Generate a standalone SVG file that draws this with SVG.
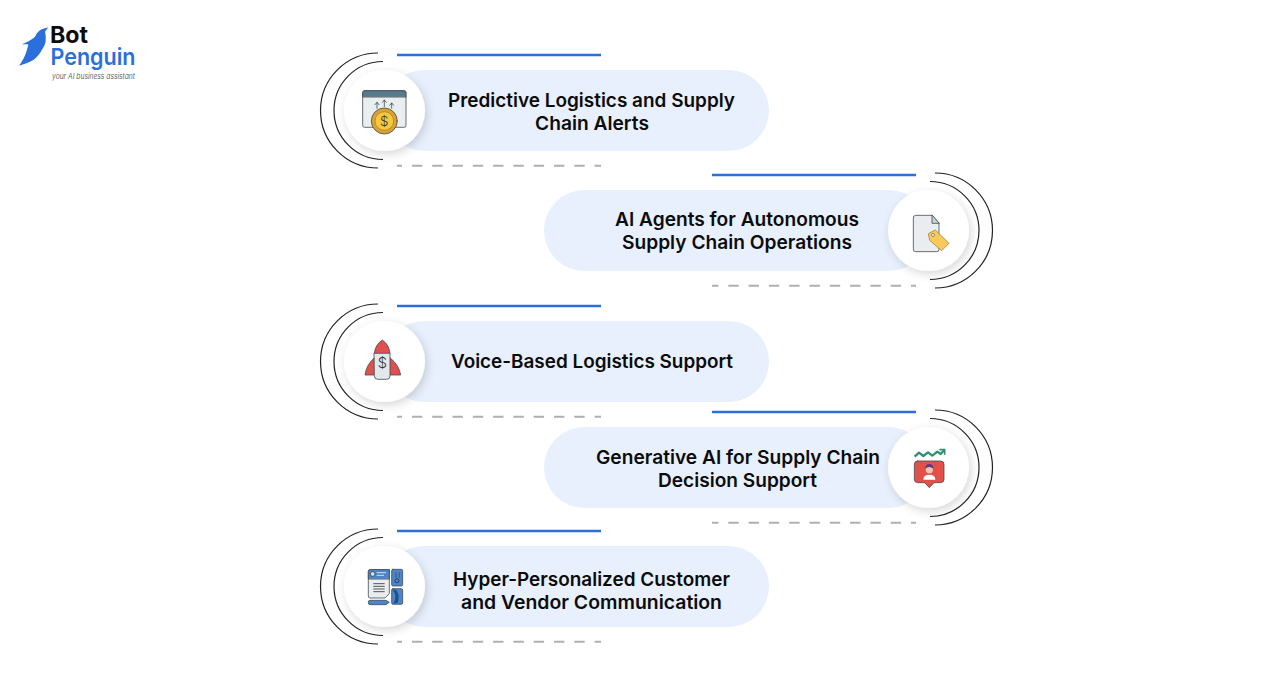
<svg xmlns="http://www.w3.org/2000/svg" width="1288" height="686" viewBox="0 0 1288 686">
<style>
.pill{fill:#e8f0fd}
.disc{fill:#fff;filter:url(#sh)}
.arc{fill:none;stroke:#222;stroke-width:1.2}
.top{stroke:#2a6fdb;stroke-width:2.5}
.dash{stroke:#b0b0b0;stroke-width:2;stroke-dasharray:10.4 9.9;stroke-dashoffset:5.4}
text{font-family:Inter,"Liberation Sans",sans-serif}
.t{font-size:19px;font-weight:600;fill:#0c0c0c;text-anchor:middle}
.ol{stroke:#454a52;stroke-width:2.4;stroke-linejoin:round;stroke-linecap:round}
.d{font-weight:300;text-anchor:middle;fill:#333}
</style>
<defs>
<filter id="sh" x="-30%" y="-30%" width="170%" height="170%"><feDropShadow dx="2" dy="3" stdDeviation="5" flood-color="#000" flood-opacity=".16"/></filter>
<g id="deco">
<path class="arc" d="M378 -57.500A57.500 57.500 0 0 0 378 57.500"/>
<path class="arc" d="M383 -49A49 49 0 0 0 383 49"/>
<line class="top" x1="397" x2="601" y1="-55.500" y2="-55.500"/>
<line class="dash" x1="397" x2="601" y1="55.300" y2="55.300"/>
</g>
</defs>
<rect width="1288" height="686" fill="#fff"/>
<g id="logo">
<path fill="#2a6fdb" d="M48.300 27.300L41.700 29.300C38 31 36.500 34 35 36.700C31 40 26 43 21.700 44.300L28.300 44.300C27 52 23.500 60 19 65.700C24 64 29 62.500 33.300 60C38 56.500 41 52 41.700 50C44.500 46 45.700 43 45.700 40C46 36.500 45.500 34 45 31.700Z"/>
<text x="50" y="43" font-size="23" font-weight="700" fill="#0c0c0c" textLength="38" lengthAdjust="spacingAndGlyphs">Bot</text>
<text x="50.500" y="65" font-size="23" font-weight="600" fill="#2a6fdb" textLength="85" lengthAdjust="spacingAndGlyphs">Penguin</text>
<text x="52" y="78.500" font-size="7.500" font-style="italic" fill="#666" textLength="83" lengthAdjust="spacingAndGlyphs">your AI business assistant</text>
</g>
<g id="connectors">
<use href="#deco" y="110.500"/>
<use href="#deco" transform="translate(1313 230.500) scale(-1 1)"/>
<use href="#deco" y="361.500"/>
<use href="#deco" transform="translate(1313 467.500) scale(-1 1)"/>
<use href="#deco" y="586.500"/>
</g>
<g id="node1">
<rect class="pill" x="384" y="70" width="385" height="81" rx="40.500"/>
<circle class="disc" cx="384.500" cy="110.500" r="40.500"/>
<g transform="translate(310 45) scale(.3333)">
<rect x="158" y="137" width="130" height="110" rx="6" fill="#e9eef1" class="ol"/>
<path d="M158 155V143Q158 137 164 137H282Q288 137 288 143V155Z" fill="#577a8c" class="ol"/>
<path class="ol" fill="none" d="M201 190V172M195 179L201 172L207 179M223 185V165M217 172L223 165L229 172M245 190V174M239 181L245 174L251 181"/>
<circle cx="223" cy="228" r="39" fill="#d9a233" class="ol"/>
<circle cx="223" cy="228" r="28" fill="#f5c93d" stroke="#c08a25" stroke-width="3"/>
<text class="d" x="223" y="242" font-size="40">$</text>
</g>
<text class="t" x="591.500" y="107" textLength="287" lengthAdjust="spacingAndGlyphs">Predictive Logistics and Supply</text>
<text class="t" x="592" y="130" textLength="114" lengthAdjust="spacingAndGlyphs">Chain Alerts</text>
</g>
<g id="node2">
<rect class="pill" x="544" y="190" width="385" height="81" rx="40.500"/>
<circle class="disc" cx="928.500" cy="230.500" r="40.500"/>
<g transform="translate(870 165) scale(.3333)">
<path class="ol" fill="#e9edf0" d="M130 158Q130 151 137 151H186L207 175V254Q207 260 200 260H137Q130 260 130 254Z"/>
<path class="ol" fill="#c9d0d6" d="M186 151V175H207Z"/>
<path fill="#fac95c" stroke="#a9853a" stroke-width="2.500" stroke-linejoin="round" d="M175 206L196 195L237 235L215 257L179 226Z"/>
<circle cx="189" cy="210" r="4.500" fill="#fff" stroke="#555" stroke-width="2"/>
</g>
<text class="t" x="737" y="226" textLength="244" lengthAdjust="spacingAndGlyphs">AI Agents for Autonomous</text>
<text class="t" x="737" y="249" textLength="230" lengthAdjust="spacingAndGlyphs">Supply Chain Operations</text>
</g>
<g id="node3">
<rect class="pill" x="384" y="321" width="385" height="81" rx="40.500"/>
<circle class="disc" cx="384.500" cy="361.500" r="40.500"/>
<g transform="translate(310 296) scale(.3333)">
<path class="ol" fill="#e0504f" d="M193 185Q168 208 165 237H193ZM240 185Q268 208 272 237H240Z"/>
<path class="ol" fill="#e0504f" d="M193 172Q195 147 217 132Q238 147 240 172Z"/>
<path class="ol" fill="#e3e8ec" d="M193 172H240V240Q240 250 230 250H203Q193 250 193 240Z"/>
<text class="d" x="217" y="215" font-size="44">$</text>
</g>
<text class="t" x="592" y="368" textLength="282" lengthAdjust="spacingAndGlyphs">Voice-Based Logistics Support</text>
</g>
<g id="node4">
<rect class="pill" x="544" y="427" width="385" height="81" rx="40.500"/>
<circle class="disc" cx="928.500" cy="467.500" r="40.500"/>
<g transform="translate(870 402) scale(.3333)">
<path fill="none" stroke="#2f8f6f" stroke-width="7" stroke-linejoin="round" d="M134 164L147 152L160 162L174 151L187 161L202 149L212 156L222 145"/>
<path fill="none" stroke="#2f8f6f" stroke-width="5" d="M208 143H224V158"/>
<path class="ol" fill="#e2504a" d="M143 177H212Q222 177 222 187V232Q222 242 212 242H192L178 257L164 242H143Q133 242 133 232V187Q133 177 143 177Z"/>
<path d="M160 233Q160 218 178 218Q196 218 196 233Z" fill="#fff"/>
<circle cx="178" cy="203" r="11" fill="#f2c3b0"/>
<path d="M166 200Q166 186 178 186Q190 186 190 200Q178 190 166 200Z" fill="#5b3a8c"/>
</g>
<text class="t" x="738" y="464" textLength="284" lengthAdjust="spacingAndGlyphs">Generative AI for Supply Chain</text>
<text class="t" x="737.500" y="487" textLength="159" lengthAdjust="spacingAndGlyphs">Decision Support</text>
</g>
<g id="node5">
<rect class="pill" x="384" y="546" width="385" height="81" rx="40.500"/>
<circle class="disc" cx="384.500" cy="586.500" r="40.500"/>
<g transform="translate(310 522) scale(.3333)">
<path class="ol" fill="#e9edf0" d="M175 148Q175 143 180 143H238V215L225 228H180Q175 228 175 223Z"/>
<path class="ol" fill="#4a86c9" d="M175 170V148Q175 143 180 143H238V170Z"/>
<circle cx="188" cy="156" r="7" fill="#cfe0f2" stroke="#333" stroke-width="2"/>
<path stroke="#cfe0f2" stroke-width="3" d="M200 152H228M200 160H222"/>
<path stroke="#555" stroke-width="3" d="M190 185H224M190 193H224M190 201H224M190 209H224"/>
<rect class="ol" x="245" y="142" width="33" height="50" rx="4" fill="#4a86c9"/>
<rect class="ol" x="245" y="200" width="33" height="47" rx="4" fill="#4a86c9"/>
<path d="M248 203Q264 222 250 244L262 244Q272 222 258 203Z" fill="#1f4f8f"/>
<path class="ol" fill="none" d="M258 152V166M268 152V166"/>
<circle cx="261" cy="176" r="6" fill="none" stroke="#2f3f55" stroke-width="3"/>
<path class="ol" fill="#4a86c9" d="M175 240Q175 235 180 235H228L238 241L228 248H180Q175 248 175 243Z"/>
</g>
<text class="t" x="591.500" y="586" textLength="277" lengthAdjust="spacingAndGlyphs">Hyper-Personalized Customer</text>
<text class="t" x="591.500" y="609" textLength="261" lengthAdjust="spacingAndGlyphs">and Vendor Communication</text>
</g>
</svg>
